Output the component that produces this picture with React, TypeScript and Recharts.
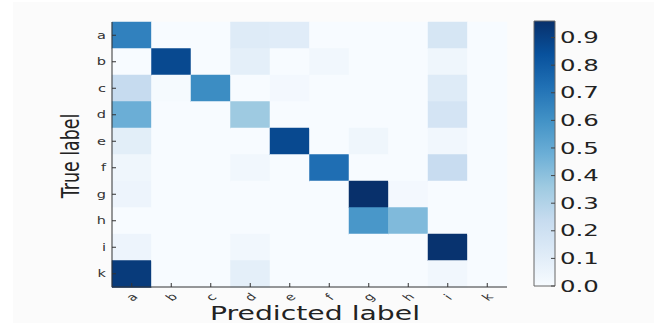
import { Bar, BarChart, Cell, XAxis, YAxis } from "recharts"

const labels = ["a", "b", "c", "d", "e", "f", "g", "h", "i", "k"]

// one row per true label, one value per predicted label
const rowA = [0.66, 0.0, 0.0, 0.12, 0.11, 0.0, 0.0, 0.0, 0.16, 0.0]
const rowB = [0.0, 0.87, 0.0, 0.09, 0.0, 0.03, 0.0, 0.0, 0.04, 0.0]
const rowC = [0.24, 0.01, 0.62, 0.0, 0.02, 0.0, 0.0, 0.0, 0.12, 0.0]
const rowD = [0.48, 0.0, 0.0, 0.36, 0.0, 0.0, 0.0, 0.0, 0.17, 0.0]
const rowE = [0.1, 0.0, 0.0, 0.0, 0.87, 0.0, 0.04, 0.0, 0.03, 0.0]
const rowF = [0.04, 0.0, 0.0, 0.03, 0.0, 0.73, 0.0, 0.0, 0.23, 0.0]
const rowG = [0.05, 0.0, 0.0, 0.0, 0.0, 0.0, 0.96, 0.02, 0.0, 0.0]
const rowH = [0.0, 0.0, 0.0, 0.0, 0.0, 0.0, 0.58, 0.43, 0.0, 0.0]
const rowI = [0.05, 0.0, 0.0, 0.03, 0.0, 0.0, 0.0, 0.0, 0.95, 0.0]
const rowK = [0.92, 0.0, 0.0, 0.09, 0.0, 0.0, 0.0, 0.0, 0.03, 0.0]

const matrix = [rowA, rowB, rowC, rowD, rowE, rowF, rowG, rowH, rowI, rowK]

const colorbarTicks = [0, 0.1, 0.2, 0.3, 0.4, 0.5, 0.6, 0.7, 0.8, 0.9]
const vmax = 0.96

// matplotlib "Blues"
const blues = ["#f7fbff", "#deebf7", "#c6dbef", "#9ecae1", "#6baed6", "#4292c6", "#2171b5", "#08519c", "#08306b"]

const FONT = "DejaVu Sans, sans-serif"
const SX = 1.45 // the picture is stretched sideways
const INK = "#333"

const hexToRgb = (h: string) => [1, 3, 5].map(i => parseInt(h.slice(i, i + 2), 16))

const blueAt = (t: number) => {
 const c = Math.max(0, Math.min(1, t)) * (blues.length - 1)
 const i = Math.min(blues.length - 2, Math.floor(c))
 const f = c - i
 const a = hexToRgb(blues[i])
 const b = hexToRgb(blues[i + 1])
 const m = a.map((v, k) => Math.round(v + (b[k] - v) * f))
 return `rgb(${m[0]},${m[1]},${m[2]})`
}

const cellTicks = labels.map((_, i) => i + 0.5)

const rows = labels.map(name => {
 const entry: Record<string, any> = { name }
 labels.forEach(l => { entry[l] = 1 })
 return entry
})

const YTick = (props: any) => {
 const { x, y, payload } = props
 return (
  <text transform={`translate(${x},${y}) scale(${SX},1)`} textAnchor="end" dominantBaseline="central"
   fontFamily={FONT} fontSize={10} fill={INK}>
   {payload.value}
  </text>
 )
}

const XTick = (props: any) => {
 const { x, y, payload } = props
 const idx = Math.floor(payload.value)
 return (
  <text transform={`translate(${x},${y}) scale(${SX},1) rotate(-45)`} textAnchor="middle" dominantBaseline="central"
   fontFamily={FONT} fontSize={10} fill={INK}>
   {labels[idx]}
  </text>
 )
}

const NoTick = () => <g />

const CbTick = (props: any) => {
 const { x, y, payload } = props
 return (
  <text transform={`translate(${x},${y}) scale(1.48,1)`} textAnchor="start" dominantBaseline="central"
   fontFamily={FONT} fontSize={16.5} fill="#222">
   {payload.value.toFixed(1)}
  </text>
 )
}

const XTitle = () => (
 <text x={315} y={320} textAnchor="middle" fontFamily={FONT} fontSize={19} textLength={210}
  lengthAdjust="spacingAndGlyphs" fill="#222">
  Predicted label
 </text>
)

const YTitle = () => (
 <text transform={`translate(79,156) scale(${SX},1) rotate(-90)`} textAnchor="middle"
  fontFamily={FONT} fontSize={17.4} fill="#222">
  True label
 </text>
)

export default function App() {
 return (
  <div style={{ position: "absolute", left: 0, top: 0, width: 654, height: 323, background: "#fff", overflow: "hidden" }}>
   <div style={{ position: "absolute", left: 13, top: 2, right: 0, bottom: 0, background: "#fbfbfb" }} />
   <div style={{ position: "absolute", left: 0, top: 0 }}>
    <BarChart width={654} height={323} data={rows} layout="vertical" barCategoryGap={0}
     margin={{ top: 22, right: 147, bottom: 6, left: 82 }}>
     <XAxis xAxisId="bottom" type="number" domain={[0, 10]} ticks={cellTicks} height={30}
      tickSize={-4} tickMargin={14} tick={<XTick />} stroke={INK} label={<XTitle />} />
     <XAxis xAxisId="top" orientation="top" type="number" domain={[0, 10]} ticks={cellTicks} height={0}
      tickSize={-4} tick={<NoTick />} stroke={INK} />
     <YAxis yAxisId="left" type="category" dataKey="name" width={30} tickSize={-4} tickMargin={10}
      tick={<YTick />} stroke={INK} label={<YTitle />} />
     <YAxis yAxisId="right" orientation="right" type="number" domain={[0, 10]} ticks={cellTicks} width={0}
      tickSize={-4} tick={<NoTick />} stroke={INK} />
     {labels.map((l, j) => (
      <Bar key={l} dataKey={l} stackId="cells" xAxisId="bottom" yAxisId="left" isAnimationActive={false}>
       {matrix.map((row, i) => (
        <Cell key={i} fill={blueAt(row[j] / vmax)} stroke={blueAt(row[j] / vmax)} strokeWidth={0.5} />
       ))}
      </Bar>
     ))}
    </BarChart>
   </div>
   <div style={{ position: "absolute", left: 520, top: 0 }}>
    <BarChart width={134} height={323} data={[{ name: "cb", v: vmax }]} barCategoryGap={0}
     margin={{ top: 21, right: 39, bottom: 37, left: 14 }}>
     <defs>
      <linearGradient id="cbGrad" x1="0" y1="1" x2="0" y2="0">
       {blues.map((c, i) => (
        <stop key={c} offset={`${(i / (blues.length - 1)) * 100}%`} stopColor={c} />
       ))}
      </linearGradient>
     </defs>
     <XAxis dataKey="name" hide />
     <YAxis orientation="right" type="number" domain={[0, vmax]} ticks={colorbarTicks} width={60}
      tickSize={-4} tickMargin={9} axisLine={false} tick={<CbTick />} stroke="#444" />
     <Bar dataKey="v" fill="url(#cbGrad)" stroke="#666" strokeWidth={1} isAnimationActive={false} />
    </BarChart>
   </div>
  </div>
 )
}
